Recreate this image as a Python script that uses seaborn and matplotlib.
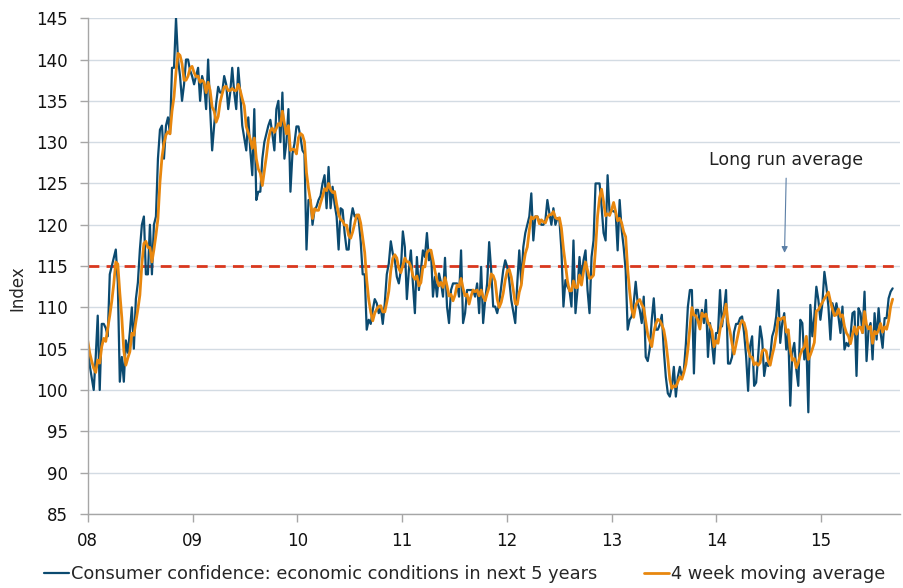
import seaborn as sns
import matplotlib.pyplot as plt
import numpy as np
import pandas as pd

# weekly readings of the index, one list per year
y2008 = [106, 103, 101.5, 100, 104, 109, 100, 108, 108, 107.5, 106.5, 114, 115, 116, 117, 113,
         101, 104, 101, 106, 104.5, 107, 110, 105, 111, 113, 117, 120, 121, 114, 114, 120,
         114, 120, 121, 128, 131.5, 132, 128, 132, 133, 131, 139, 139, 145, 140, 138, 135,
         137, 140, 140, 138.7]
y2009 = [138, 137, 138, 139, 135, 138, 137, 134, 140, 134, 129, 132, 134.7, 136.7, 136, 136,
         138, 137, 134, 136, 139, 136, 134, 139, 136, 132, 130.5, 129, 133, 129, 126, 134,
         123, 124, 124, 128, 130, 131, 132, 132.7, 131, 129, 134, 135, 130, 136, 128, 130,
         134, 124, 128.6, 129.8]
y2010 = [131.9, 131.9, 130.6, 129, 128.6, 117, 123, 123, 120, 121.8, 122.2, 123, 123.5, 125, 126, 122,
         127, 122, 124.6, 122.5, 121, 117, 122, 121.8, 119, 117, 117, 120.5, 122, 121, 121.2, 120.6,
         118, 114, 114, 107.3, 108.5, 108, 109.7, 111, 110.5, 109.3, 110, 108, 110.5, 114, 115.3,
         118, 116.5, 115.7, 113.7, 112.9]
y2011 = [114.5, 119.2, 117.3, 111, 114.5, 116.9, 112.9, 109.3, 116.1, 112.1, 114.5, 116.9, 116.1, 119, 115.7, 116.9,
         111.3, 113.7, 111.3, 114.1, 113, 111.3, 116, 110.1, 108.1, 112.1, 112.9, 112.9, 112.9, 111.3, 116.9, 108.1,
         109.3, 112.1, 112.1, 112.1, 112.1, 111.3, 112.9, 109.3, 114.9, 108.1, 110.9, 112.9, 117.9, 114.5, 110.1,
         110.1, 109.3, 110.5, 112.5, 114.5]
y2012 = [115.7, 114.9, 113.3, 110.9, 109.5, 108.1, 112.9, 116.9, 112.9, 117.3, 119, 120, 121, 123.8, 118.1, 121,
         121, 120.4, 120, 120, 120.5, 123, 121.4, 120, 122, 120, 120.8, 120.6, 116.9, 110.1, 113.3, 112.5,
         112.1, 110.1, 118.1, 109.3, 112.1, 116.1, 113.3, 115.7, 116.9, 112.1, 109.3, 116.1, 118.1, 125, 125,
         125, 122.2, 119, 118.1, 126]
y2013 = [121.4, 121.8, 121.6, 121.6, 116.9, 123, 119.4, 117.3, 114.5, 107.3, 108.5, 108.9, 110.5, 113.1, 110.5, 109.7,
         108.1, 111.3, 104, 103.5, 105, 108.5, 111.1, 107.3, 107.3, 107.9, 109.1, 104.8, 101.6, 99.6, 99.2, 100.4,
         102.8, 99.2, 101.6, 102.8, 101.6, 102.4, 105.6, 110.1, 112.1, 112.1, 102, 109.7, 109.7, 108.1, 109.7,
         108.1, 110.9, 104, 108.1, 105.6]
y2014 = [103.2, 106.9, 106.9, 112.1, 107.7, 109.7, 112.1, 103.2, 103.2, 104, 107, 108, 108, 108.7, 108.9, 106.9,
         104.1, 99.9, 105.3, 106.5, 100.5, 100.9, 104.1, 107.7, 106.1, 101.7, 103.3, 102.9, 104.1, 106.5, 107.3, 108.9,
         112.1, 105.7, 108.1, 109.3, 104.9, 106.9, 98.1, 104.5, 105.7, 102.5, 100.5, 108.5, 108.1, 103.7, 105.7,
         97.3, 110.3, 106.5, 108.9, 112.5]
y2015 = [110.9, 108.5, 110.5, 114.3, 112.5, 110.1, 106.1, 110.5, 109.3, 110.5, 108.9, 106.9, 110.1, 104.9, 105.7, 105.3,
         106.5, 109.3, 109.5, 101.7, 109.9, 109.3, 106.9, 111.9, 103.5, 107.3, 108.1, 103.7, 109.3, 106.1, 109.9, 106.9,
         105.1, 108.7, 108.7, 111.1, 111.9, 112.3]

confidence = y2008 + y2009 + y2010 + y2011 + y2012 + y2013 + y2014 + y2015
year_starts = ['2008-01-01', '2009-01-01', '2010-01-01', '2011-01-01', '2012-01-01',
               '2013-01-01', '2014-01-01', '2015-01-01']
year_labels = ['08', '09', '10', '11', '12', '13', '14', '15']
long_run_avg = 115
y_ticks = list(range(85, 146, 5))

weeks = pd.date_range('2008-01-01', periods=len(confidence), freq='7D')
df = pd.DataFrame({'week': weeks, 'confidence': confidence})
df['ma4'] = df['confidence'].rolling(4, min_periods=1).mean()

sns.set_style('white')
plt.rcParams['font.family'] = ['DejaVu Sans']

fig, ax = plt.subplots(figsize=(9.04, 5.88), dpi=100)
fig.subplots_adjust(left=0.097, right=0.996, top=0.969, bottom=0.126)

ax.grid(axis='y', color='#d3dbe3', lw=1)
ax.set_axisbelow(True)

sns.lineplot(data=df, x='week', y='confidence', color='#0b4a70', lw=1.6, ax=ax,
             label='Consumer confidence: economic conditions in next 5 years')
sns.lineplot(data=df, x='week', y='ma4', color='#e8870e', lw=2.0, ax=ax,
             label='4 week moving average')
ax.axhline(long_run_avg, color='#d9381e', lw=2, ls=(0, (3.9, 2.6)), zorder=1)

ax.annotate('Long run average', xy=(pd.Timestamp('2014-08-27'), 116.6),
            xytext=(pd.Timestamp('2014-09-03'), 127.8), ha='center', va='center',
            fontsize=12.5, color='#222222',
            arrowprops=dict(arrowstyle='-|>', color='#5b7fa6', lw=0.8,
                            mutation_scale=9, shrinkA=4, shrinkB=0))

ax.set_ylim(85, 145)
ax.set_yticks(y_ticks)
ax.set_xlim(pd.Timestamp('2008-01-01'), pd.Timestamp('2015-10-05'))
ax.set_xticks(pd.to_datetime(year_starts))
ax.set_xticklabels(year_labels)
ax.set_xlabel('')
ax.set_ylabel('Index', fontsize=12)
ax.yaxis.set_label_coords(-0.076, 0.456)

ax.tick_params(axis='both', direction='out', length=6, width=1, color='#a6a6a6',
               labelsize=12, labelcolor='#111111', left=True, bottom=True)
ax.tick_params(axis='y', pad=8)
ax.tick_params(axis='x', pad=7)
for s in ['top', 'right']:
    ax.spines[s].set_visible(False)
for s in ['left', 'bottom']:
    ax.spines[s].set_color('#a6a6a6')
    ax.spines[s].set_linewidth(1)

ax.get_legend().remove()
handles, labels = ax.get_legend_handles_labels()
fig.legend(handles, labels, loc='center', bbox_to_anchor=(0.514, 0.024), ncol=2,
           frameon=False, fontsize=12.8, handlelength=1.4, handletextpad=0.15,
           columnspacing=2.6, borderpad=0)

fig.savefig('out.png', dpi=100)
